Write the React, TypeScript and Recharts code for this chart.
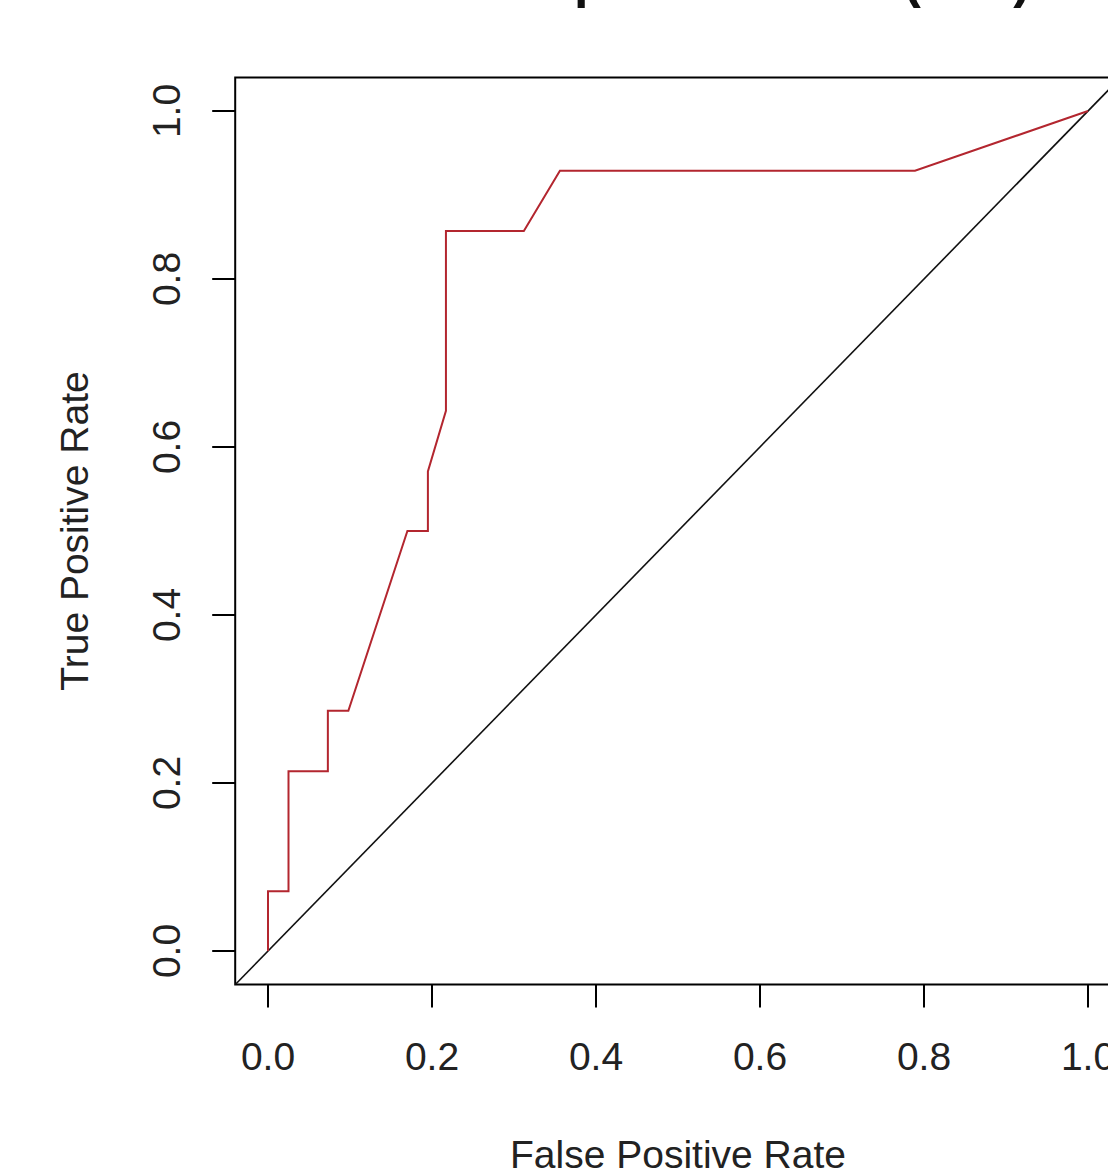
import React from "react";
import { LineChart, Line, XAxis, YAxis, ReferenceArea } from "recharts";

// ROC curve
const fpr = [0, 0, 0.025, 0.025, 0.073, 0.073, 0.098, 0.17, 0.195, 0.195, 0.217, 0.217, 0.312, 0.356, 0.789, 1.0];
const tpr = [0, 0.071, 0.071, 0.214, 0.214, 0.286, 0.286, 0.5, 0.5, 0.571, 0.643, 0.857, 0.857, 0.929, 0.929, 1.0];

// abline(0, 1) spans the whole plot region
const chanceX = [-0.04, 1.04];
const chanceY = [-0.04, 1.04];

const xTicks = [0, 0.2, 0.4, 0.6, 0.8, 1.0];
const yTicks = [0, 0.2, 0.4, 0.6, 0.8, 1.0];

const title = "Classifier performance (test)";
const xLabel = "False Positive Rate";
const yLabel = "True Positive Rate";

const rocData = fpr.map((x, i) => ({ x, y: tpr[i] }));
const chanceData = chanceX.map((x, i) => ({ x, y: chanceY[i] }));

const FONT = "'Liberation Sans', Arial, sans-serif";
const DOMAIN: [number, number] = [-0.04, 1.04];

function YTick({ x, y, payload }: any) {
  return (
    <text
      x={x}
      y={y}
      transform={`rotate(-90, ${x}, ${y})`}
      textAnchor="middle"
      fontSize={39}
      fontFamily={FONT}
      fill="#222"
    >
      {Number(payload.value).toFixed(1)}
    </text>
  );
}

function YLabel({ viewBox }: any) {
  const cx = viewBox.x + 88;
  const cy = 531;
  return (
    <text
      x={cx}
      y={cy}
      transform={`rotate(-90, ${cx}, ${cy})`}
      textAnchor="middle"
      fontSize={39}
      fontFamily={FONT}
      fill="#222"
    >
      {yLabel}
    </text>
  );
}

function XLabel() {
  return (
    <text x={678} y={1168} textAnchor="middle" fontSize={39} fontFamily={FONT} fill="#222">
      {xLabel}
    </text>
  );
}

export default function App() {
  return (
    <div style={{ position: "fixed", left: 0, top: 0, width: 1108, height: 1169, overflow: "hidden", background: "#fff" }}>
      <svg width={1300} height={100} style={{ position: "absolute", left: 0, top: -80 }}>
        <text x={678} y={77} textAnchor="middle" fontSize={52} fontWeight="bold" fontFamily={FONT} fill="#111">
          {title}
        </text>
      </svg>
      <div style={{ position: "absolute", left: 0, top: 0 }}>
        <LineChart width={1200} height={1169} margin={{ top: 77.4, right: 79.2, left: 0, bottom: 0 }}>
          <XAxis
            type="number"
            dataKey="x"
            domain={DOMAIN}
            ticks={xTicks}
            allowDataOverflow
            height={184.4}
            axisLine={false}
            tickSize={23}
            tickMargin={35}
            tickLine={{ stroke: "#000", strokeWidth: 2 }}
            tick={{ fontSize: 39, fill: "#222", fontFamily: FONT }}
            tickFormatter={(v: number) => v.toFixed(1)}
            interval={0}
            label={<XLabel />}
          />
          <YAxis
            type="number"
            dataKey="y"
            domain={DOMAIN}
            ticks={yTicks}
            allowDataOverflow
            width={235.2}
            axisLine={false}
            tickSize={23}
            tickMargin={32}
            tickLine={{ stroke: "#000", strokeWidth: 2 }}
            tick={<YTick />}
            interval={0}
            label={<YLabel />}
          />
          <Line
            data={chanceData}
            dataKey="y"
            type="linear"
            stroke="#111"
            strokeWidth={1.6}
            dot={false}
            activeDot={false}
            isAnimationActive={false}
          />
          <Line
            data={rocData}
            dataKey="y"
            type="linear"
            stroke="#b3262f"
            strokeWidth={2}
            dot={false}
            activeDot={false}
            isAnimationActive={false}
          />
          <ReferenceArea
            x1={DOMAIN[0]}
            x2={DOMAIN[1]}
            y1={DOMAIN[0]}
            y2={DOMAIN[1]}
            fill="none"
            fillOpacity={0}
            stroke="#000"
            strokeWidth={2}
            ifOverflow="visible"
          />
        </LineChart>
      </div>
    </div>
  );
}
